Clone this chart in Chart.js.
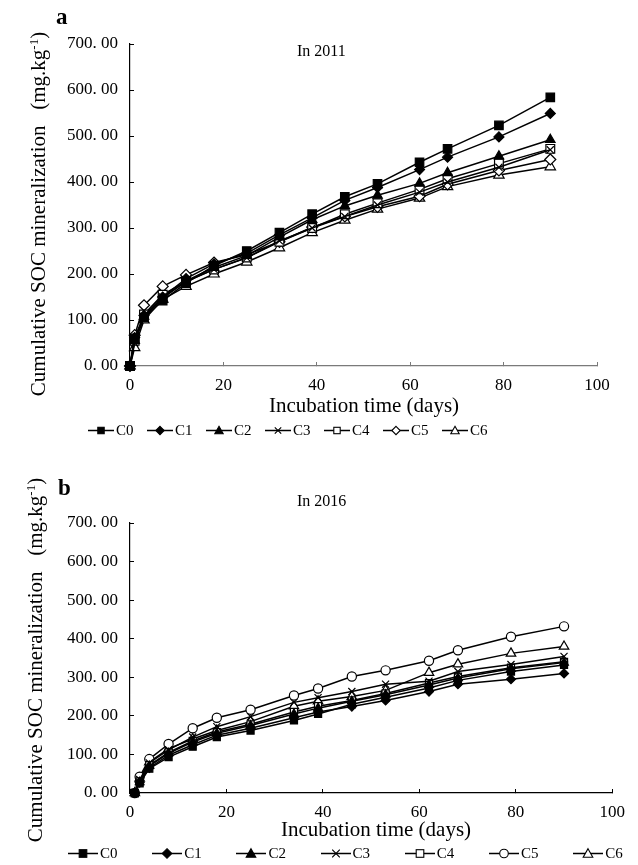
<!DOCTYPE html>
<html>
<head>
<meta charset="utf-8">
<script src="https://cdn.jsdelivr.net/npm/chart.js@4.4.1/dist/chart.umd.min.js"></script>
<style>
  body { margin: 0; background: #fff; }
  #page { position: relative; width: 638px; height: 865px; overflow: hidden; font-family: "Liberation Serif", "Times New Roman", serif; color: #000; }
  canvas { position: absolute; left: 0; }
  .txt { position: absolute; white-space: nowrap; line-height: 1; }
  .ytitle { font-size: 21px; transform: translate(-50%, -50%) rotate(-90deg); }
  .ytitle sup { font-size: 13px; vertical-align: 7px; line-height: 0; }
  .xtitle { font-size: 21px; transform: translate(-50%, -50%); }
  .letter { font-weight: bold; font-size: 23px; }
  .year { font-size: 16px; }
  .leg { position: absolute; display: flex; align-items: center; transform: translateY(-50%); font-size: 15px; }
  .leg svg { display: block; margin-right: 2px; }
</style>
</head>
<body>
<div id="page">
  <canvas id="chartA" width="638" height="440" style="top:0"></canvas>
  <canvas id="chartB" width="638" height="425" style="top:440px"></canvas>

  <div class="txt letter" style="left:56px;top:5px">a</div>
  <div class="txt year" style="left:297px;top:43px">In 2011</div>
  <div class="txt ytitle" style="left:38px;top:214px">Cumulative SOC mineralization &nbsp;&nbsp;(mg.kg<sup>-1</sup>)</div>
  <div class="txt xtitle" style="left:364px;top:405px">Incubation time (days)</div>
  <div id="legendA"></div>

  <div class="txt letter" style="left:58px;top:476px">b</div>
  <div class="txt year" style="left:297px;top:493px">In 2016</div>
  <div class="txt ytitle" style="left:35px;top:660px">Cumulative SOC mineralization &nbsp;&nbsp;(mg.kg<sup>-1</sup>)</div>
  <div class="txt xtitle" style="left:376px;top:829px">Incubation time (days)</div>
  <div id="legendB"></div>
</div>

<script>
// treatments
const names = ['C0', 'C1', 'C2', 'C3', 'C4', 'C5', 'C6'];

// 2011 incubation (days) and cumulative SOC mineralization (mg/kg)
const daysA = [0, 1, 3, 7, 12, 18, 25, 32, 39, 46, 53, 62, 68, 79, 90];
const a_C0 = [0, 60, 105, 142, 180, 218, 250, 290, 330, 368, 396, 443, 472, 523, 584];
const a_C1 = [0, 62, 110, 150, 190, 222, 245, 285, 322, 360, 388, 427, 454, 498, 549];
const a_C2 = [0, 55, 108, 147, 185, 214, 240, 280, 318, 348, 371, 397, 420, 456, 492];
const a_C3 = [0, 50, 106, 150, 183, 210, 235, 272, 300, 325, 350, 378, 400, 432, 470];
const a_C4 = [0, 55, 112, 155, 184, 210, 236, 270, 300, 330, 354, 384, 407, 440, 472];
const a_C5 = [0, 67, 132, 173, 198, 225, 242, 270, 302, 325, 346, 369, 395, 425, 449];
const a_C6 = [0, 40, 100, 145, 173, 200, 226, 257, 290, 317, 341, 365, 390, 415, 433];

// 2016
const daysB = [1, 2, 4, 8, 13, 18, 25, 34, 39, 46, 53, 62, 68, 79, 90];
const b_C0 = [0, 25, 63, 93, 120, 145, 162, 188, 205, 230, 248, 272, 292, 315, 332];
const b_C1 = [0, 27, 65, 98, 125, 150, 168, 195, 210, 224, 240, 263, 282, 295, 310];
const b_C2 = [0, 28, 70, 103, 132, 155, 175, 205, 220, 238, 255, 280, 298, 322, 338];
const b_C3 = [0, 35, 78, 112, 145, 172, 198, 235, 247, 263, 282, 290, 315, 333, 354];
const b_C4 = [0, 30, 72, 105, 135, 158, 178, 210, 225, 240, 258, 285, 302, 325, 340];
const b_C5 = [0, 42, 88, 127, 168, 195, 216, 253, 271, 302, 318, 343, 370, 405, 432];
const b_C6 = [0, 38, 80, 115, 140, 162, 185, 225, 238, 250, 266, 312, 334, 362, 380];

const xTicks = [0, 20, 40, 60, 80, 100];
const yMax = 700;

// marker looks
const W = '#fff', K = '#000';
const marksA = [
  { shape: 'rect', fill: K, r: 6 },
  { shape: 'rectRot', fill: K, r: 5 },
  { shape: 'triangle', fill: K, r: 5.5 },
  { shape: 'crossRot', fill: K, r: 5 },
  { shape: 'rect', fill: W, r: 6.2 },
  { shape: 'rectRot', fill: W, r: 5.5 },
  { shape: 'triangle', fill: W, r: 6 }
];
const marksB = [
  { shape: 'rect', fill: K, r: 5 },
  { shape: 'rectRot', fill: K, r: 4.5 },
  { shape: 'triangle', fill: K, r: 5 },
  { shape: 'crossRot', fill: K, r: 5 },
  { shape: 'rect', fill: W, r: 5 },
  { shape: 'circle', fill: W, r: 4.6 },
  { shape: 'triangle', fill: W, r: 5.5 }
];

const tickFont = { family: 'Liberation Serif', size: 17 };

function makeChart(id, days, series, marks, box) {
  new Chart(document.getElementById(id), {
    type: 'line',
    data: {
      datasets: series.map((vals, i) => ({
        label: names[i],
        data: days.map((d, j) => ({ x: d, y: vals[j] })),
        borderColor: K,
        borderWidth: 1.5,
        pointStyle: marks[i].shape,
        pointRadius: marks[i].r,
        pointBackgroundColor: marks[i].fill,
        pointBorderColor: K,
        pointBorderWidth: 1.2,
        tension: 0,
        fill: false,
        clip: false
      }))
    },
    options: {
      responsive: false,
      animation: false,
      events: [],
      layout: { padding: { left: 0, right: box.right, top: box.top, bottom: 0 } },
      plugins: { legend: { display: false }, tooltip: { enabled: false } },
      scales: {
        x: {
          type: 'linear', min: 0, max: 100,
          afterBuildTicks: s => { s.ticks = xTicks.map(v => ({ value: v })); },
          ticks: { color: K, font: tickFont, padding: 13, maxRotation: 0 },
          grid: { drawOnChartArea: false, tickLength: -4, color: box.xColor },
          border: { color: box.xColor, width: 1.2 },
          afterFit: s => { s.height = box.xHeight; }
        },
        y: {
          min: 0, max: yMax,
          ticks: { stepSize: 100, color: K, font: tickFont, padding: 16,
                   callback: v => v.toFixed(2).replace('.', '. ') },
          grid: { drawOnChartArea: false, tickLength: -4, color: K },
          border: { color: K, width: 1.2 },
          afterFit: s => { s.width = 130; }
        }
      }
    }
  });
}

makeChart('chartA', daysA, [a_C0, a_C1, a_C2, a_C3, a_C4, a_C5, a_C6], marksA,
  { top: 44, right: 41, xHeight: 74, xColor: '#7a7a7a' });
makeChart('chartB', daysB, [b_C0, b_C1, b_C2, b_C3, b_C4, b_C5, b_C6], marksB,
  { top: 83, right: 16, xHeight: 72, xColor: K });

// legends: line with marker, then name
function markerSvg(m, len, s) {
  const c = len / 2, y = 8;
  let shape = '';
  if (m.shape === 'rect') shape = `<rect x="${c - s}" y="${y - s}" width="${2 * s}" height="${2 * s}" fill="${m.fill}" stroke="#000" stroke-width="1.1"/>`;
  else if (m.shape === 'rectRot') shape = `<polygon points="${c},${y - s - 1} ${c + s + 1},${y} ${c},${y + s + 1} ${c - s - 1},${y}" fill="${m.fill}" stroke="#000" stroke-width="1.1"/>`;
  else if (m.shape === 'triangle') shape = `<polygon points="${c},${y - s - 1} ${c + s + 1},${y + s} ${c - s - 1},${y + s}" fill="${m.fill}" stroke="#000" stroke-width="1.1"/>`;
  else if (m.shape === 'crossRot') shape = `<path d="M${c - s} ${y - s}L${c + s} ${y + s}M${c + s} ${y - s}L${c - s} ${y + s}" stroke="#000" stroke-width="1.2"/>`;
  else if (m.shape === 'circle') shape = `<circle cx="${c}" cy="${y}" r="${s + 0.5}" fill="${m.fill}" stroke="#000" stroke-width="1.1"/>`;
  return `<svg width="${len}" height="16"><line x1="0" y1="${y}" x2="${len}" y2="${y}" stroke="#000" stroke-width="1.5"/>${shape}</svg>`;
}

function makeLegend(id, marks, x0, step, y, len, s) {
  const host = document.getElementById(id);
  host.innerHTML = names.map((n, i) =>
    `<div class="leg" style="left:${x0 + i * step}px;top:${y}px">${markerSvg(marks[i], len, s)}<span>${n}</span></div>`
  ).join('');
}

makeLegend('legendA', marksA, 88, 59, 430, 26, 3.2);
makeLegend('legendB', marksB, 68, 84.2, 853, 30, 3.8);
</script>
</body>
</html>
